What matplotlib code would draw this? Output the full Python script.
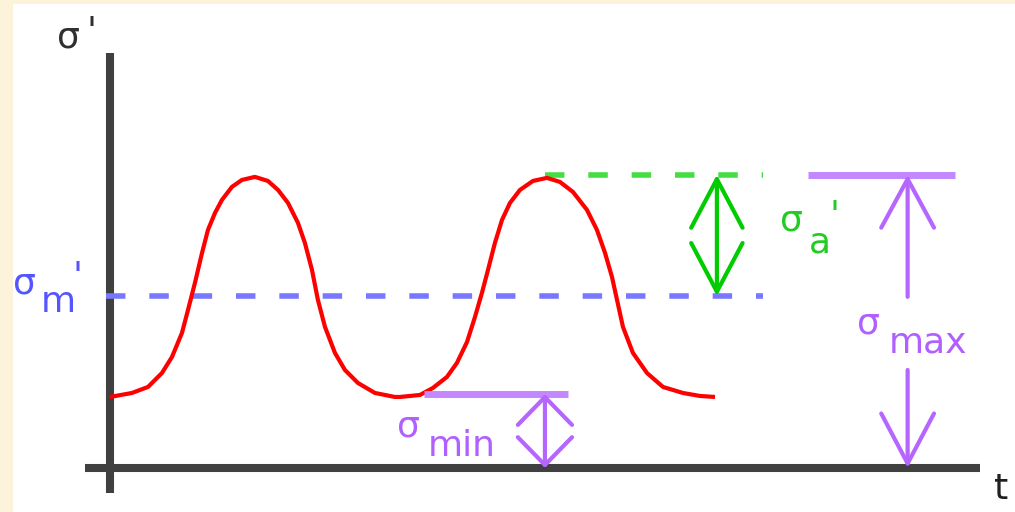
import matplotlib
matplotlib.use('Agg')
import matplotlib.pyplot as plt

# stress cycle (t in arbitrary time units, sigma in stress units)
t_curve = [0.000, 0.152, 0.263, 0.360, 0.429, 0.498, 0.540, 0.588, 0.637, 0.678,
           0.727, 0.775, 0.844, 0.913, 1.003, 1.093, 1.163, 1.232, 1.301, 1.349,
           1.398, 1.439, 1.488, 1.557, 1.626, 1.716, 1.834, 1.972,
           2.007, 2.145, 2.235, 2.332, 2.401, 2.471, 2.526, 2.574, 2.616, 2.664,
           2.713, 2.768, 2.837, 2.927, 3.024, 3.114, 3.204, 3.301, 3.370, 3.426,
           3.474, 3.509, 3.550, 3.619, 3.716, 3.827, 3.965, 4.083, 4.187]
sigma_curve = [1.000, 1.056, 1.141, 1.338, 1.563, 1.901, 2.225, 2.606, 3.028, 3.352,
               3.592, 3.775, 3.958, 4.056, 4.099, 4.042, 3.915, 3.732, 3.451, 3.169,
               2.789, 2.366, 1.986, 1.620, 1.380, 1.197, 1.056, 1.000,
               1.000, 1.028, 1.127, 1.282, 1.479, 1.775, 2.127, 2.465, 2.789, 3.169,
               3.493, 3.732, 3.915, 4.042, 4.085, 4.028, 3.887, 3.634, 3.352, 3.028,
               2.690, 2.366, 1.986, 1.620, 1.338, 1.141, 1.056, 1.014, 1.000]

sigma_max = 4.13
sigma_m = 2.42
sigma_min = 1.04

RED = '#ff0000'
BLUE = '#7777ff'
BLUE_TXT = '#5555ff'
GREEN = '#00cc00'
GREEN_DASH = '#44dd44'
PURPLE = '#c388ff'
PURPLE_ARR = '#b566ff'
PURPLE_TXT = '#b060ff'
AXIS = '#404040'
FS = 26

fig = plt.figure(figsize=(10.15, 5.12), dpi=100)
fig.patch.set_facecolor('#fdf2da')

# white card with cream border at top/left
bg = fig.add_axes([13 / 1015, 0, 1 - 13 / 1015, 508 / 512])
bg.set_facecolor('white')
bg.set_xticks([])
bg.set_yticks([])
for s in bg.spines.values():
    s.set_visible(False)

ax = fig.add_axes([0, 0, 1, 1])
ax.patch.set_alpha(0)
ax.axis('off')
ax.set_xlim(-0.761, 6.263)
ax.set_ylim(-0.62, 6.59)

# axes
ax.plot([0, 0], [-0.35, 5.85], color=AXIS, lw=5.8, solid_capstyle='butt', zorder=2)
ax.plot([-0.17, 6.02], [0, 0], color=AXIS, lw=5.8, solid_capstyle='butt', zorder=2)

# mean and amplitude levels
ax.plot([-0.03, 4.52], [sigma_m, sigma_m], color=BLUE, lw=4, dashes=(3.5, 4.3), zorder=3)
ax.plot([3.01, 4.52], [sigma_max, sigma_max], color=GREEN_DASH, lw=4, dashes=(3.5, 4.3), zorder=3)

# the cycle
ax.plot(t_curve, sigma_curve, color=RED, lw=3, solid_joinstyle='round',
        solid_capstyle='butt', zorder=4)

# purple reference lines
ax.plot([4.83, 5.85], [sigma_max, sigma_max], color=PURPLE, lw=5, solid_capstyle='butt', zorder=3)
ax.plot([2.17, 3.17], [sigma_min, sigma_min], color=PURPLE, lw=5, solid_capstyle='butt', zorder=5)


def arrow(x0, y0, x1, y1, style, color, hl, hw):
    ax.annotate('', xy=(x1, y1), xytext=(x0, y0),
                arrowprops=dict(arrowstyle='%s,head_length=%g,head_width=%g' % (style, hl, hw),
                                color=color, lw=3, shrinkA=0, shrinkB=0,
                                mutation_scale=1), zorder=6)


arrow(4.20, sigma_m, 4.20, sigma_max, '<->', GREEN, 35, 18.5)
arrow(5.52, 2.41, 5.52, sigma_max, '->', PURPLE_ARR, 35, 19)
arrow(5.52, 1.38, 5.52, 0, '->', PURPLE_ARR, 36, 19)
arrow(3.01, 0, 3.01, sigma_min, '<->', PURPLE_ARR, 20, 19.5)


# labels
def label(x, y, s, color, va='baseline', size=FS):
    ax.text(x, y, s, color=color, fontsize=size, ha='left', va=va,
            family='DejaVu Sans', zorder=7)


label(-0.37, 5.92, 'σ', '#303030')
label(-0.16, 6.38, "'", '#303030', va='top')
label(6.12, -0.44, 't', '#202020', size=26)

label(-0.67, 2.46, 'σ', BLUE_TXT)
label(-0.478, 2.20, 'm', BLUE_TXT)
label(-0.256, 2.93, "'", BLUE_TXT, va='top')

label(4.64, 3.34, 'σ', '#22cc22')
label(4.84, 3.04, 'a', '#22cc22')
label(4.98, 3.79, "'", '#22cc22', va='top')

label(5.17, 1.90, 'σ', PURPLE_TXT)
label(5.39, 1.62, 'max', PURPLE_TXT)

label(1.986, 0.45, 'σ', PURPLE_TXT)
label(2.20, 0.17, 'min', PURPLE_TXT)

plt.savefig('out.png', dpi=100)
plt.close()
